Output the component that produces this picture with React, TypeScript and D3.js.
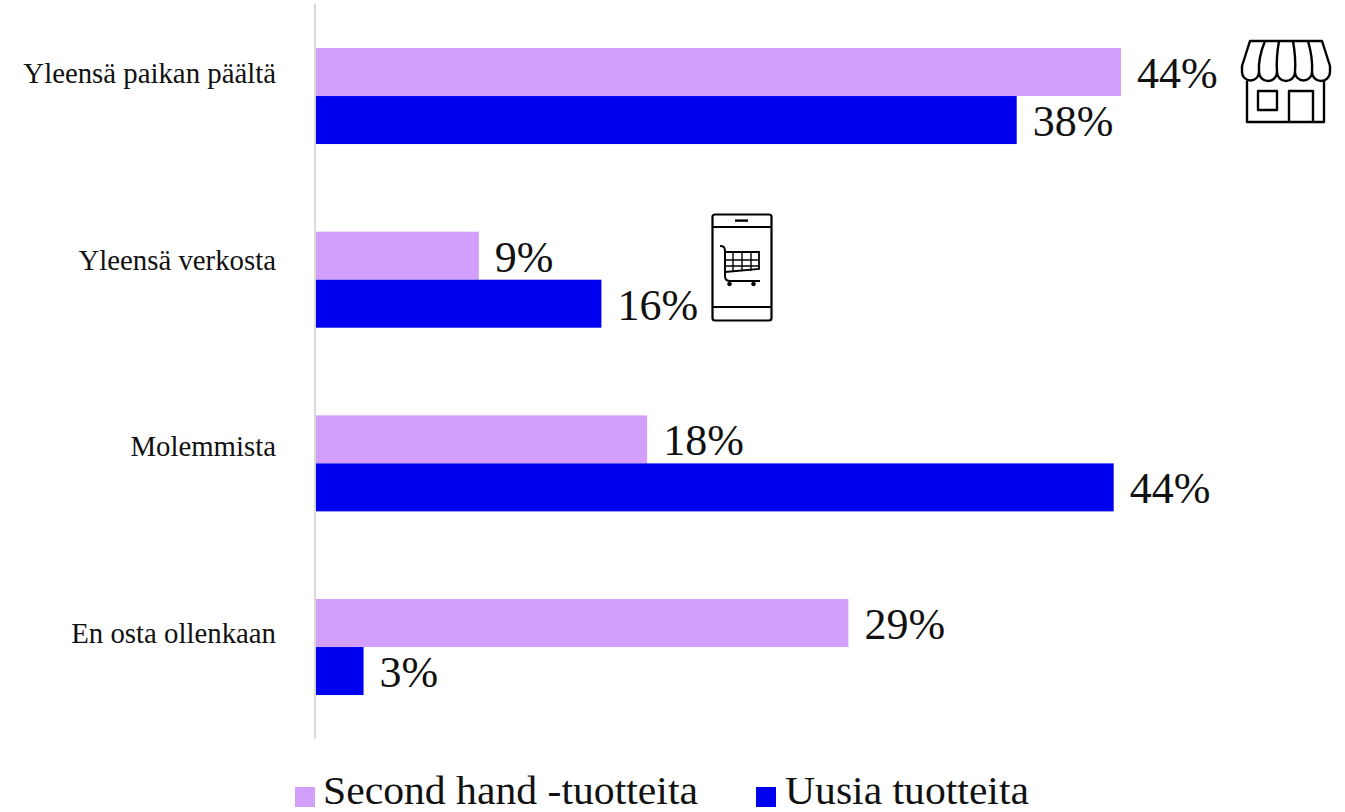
import React from "react";
import * as d3 from "d3";

const categories = ["Yleensä paikan päältä", "Yleensä verkosta", "Molemmista", "En osta ollenkaan"];
const seriesNames = ["Second hand -tuotteita", "Uusia tuotteita"];
const secondHand = [44.0, 8.9, 18.1, 29.1];
const newProducts = [38.3, 15.6, 43.6, 2.6];
const seriesColors = ["#d2a0fc", "#0000f0"];

const FONT = "'Liberation Serif', serif";
const WIDTH = 1345;
const HEIGHT = 812;

const x = d3.scaleLinear().domain([0, 44]).range([316, 1121]);
const STEP = 183.67;
const y = d3.scaleBand<string>().domain(categories).range([4.2, 4.2 + STEP * 4])
  .paddingInner((STEP - 96) / STEP).paddingOuter((STEP - 96) / STEP / 2);
const inner = d3.scaleBand<string>().domain(seriesNames).range([0, y.bandwidth()]);
const labelY = d3.scalePoint<string>().domain(categories).range([83, 643]);
const pct = (v: number) => `${d3.format(".0f")(v)}%`;

// Shop front: striped awning with scalloped edge, window and door.
function ShopIcon() {
  const stripeTops = [1250, 1265, 1279, 1293, 1308, 1322];
  const stripeBottoms = [1242, 1259, 1277, 1295, 1312, 1330];
  const edge = "M1330 72" + d3.range(4, -1, -1).map((i) => {
    const r = (stripeBottoms[i + 1] - stripeBottoms[i]) / 2;
    return `A${r} ${Math.min(r, 9)} 0 0 1 ${stripeBottoms[i]} 72`;
  }).join("");
  return (
    <g fill="none" stroke="#000" strokeWidth={2.4} strokeLinejoin="round">
      <path d="M1242 72V66L1250 41H1322L1330 66V72" />
      <path d={edge} />
      {stripeTops.slice(1, 5).map((t, i) => (
        <path key={t} d={`M${t} 41Q${stripeBottoms[i + 1] + (i < 2 ? -1 : 1)} 58 ${stripeBottoms[i + 1]} 72`} />
      ))}
      <path d="M1247 81V122H1324V81" />
      <rect x={1258} y={91} width={19} height={19} />
      <path d="M1289 122V91H1313V122" />
    </g>
  );
}

// Phone outline with a shopping cart on its screen.
function PhoneIcon() {
  const gridX = [733, 742, 751];
  const gridY = [260, 266];
  return (
    <g fill="none" stroke="#000" strokeWidth={2.2}>
      <rect x={712.5} y={214.5} width={59} height={106} rx={2.5} />
      <path d="M712 227H772M712 307H772" />
      <path d="M735 220.6H748" strokeWidth={2.4} />
      <path d="M720 246C725 246 725 249 725 252V276C725 279 726 281 730 281H760" strokeWidth={2} />
      <path d="M725 252H759V269L725 272" strokeWidth={1.8} />
      {gridX.map((g) => <path key={g} d={`M${g} 252V271`} strokeWidth={1.4} />)}
      {gridY.map((g) => <path key={g} d={`M725 ${g}H759`} strokeWidth={1.4} />)}
      <circle cx={729.5} cy={284} r={1.8} fill="#000" strokeWidth={1} />
      <circle cx={753.5} cy={284} r={1.8} fill="#000" strokeWidth={1} />
    </g>
  );
}

export default function App() {
  return (
    <svg width={WIDTH} height={HEIGHT} style={{ position: "absolute", left: 0, top: 0, background: "#fff" }} fontFamily={FONT}>
      <line x1={315} x2={315} y1={4} y2={739} stroke="#d9d9d9" strokeWidth={2} />
      {categories.map((c, i) => {
        const band = y(c) as number;
        return (
          <g key={c}>
            <text x={276} y={labelY(c)} textAnchor="end" fontSize={28.8} fill="#111">{c}</text>
            {[secondHand[i], newProducts[i]].map((v, s) => {
              const top = band + (inner(seriesNames[s]) as number);
              return (
                <g key={s}>
                  <rect x={x(0)} y={top} width={x(v) - x(0)} height={inner.bandwidth()} fill={seriesColors[s]} />
                  <text x={x(v) + 16} y={top + 40} fontSize={44} fill="#111">{pct(v)}</text>
                </g>
              );
            })}
          </g>
        );
      })}
      <ShopIcon />
      <PhoneIcon />
      <rect x={295} y={787} width={20} height={20} fill={seriesColors[0]} />
      <text x={323} y={803.5} fontSize={39} textLength={375} lengthAdjust="spacingAndGlyphs" fill="#111">{seriesNames[0]}</text>
      <rect x={756} y={787} width={20} height={20} fill={seriesColors[1]} />
      <text x={785} y={803.5} fontSize={39} textLength={244} lengthAdjust="spacingAndGlyphs" fill="#111">{seriesNames[1]}</text>
    </svg>
  );
}
